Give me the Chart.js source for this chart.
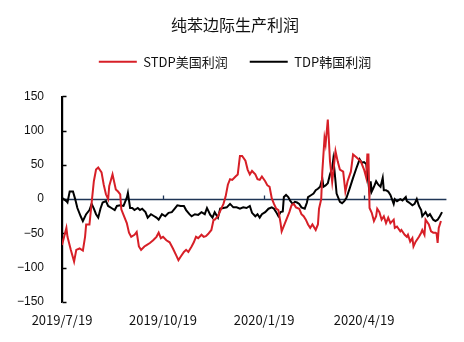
<!DOCTYPE html>
<html>
<head>
<meta charset="utf-8">
<script src="https://cdn.jsdelivr.net/npm/chart.js@4.4.0/dist/chart.umd.min.js"></script>
<style>
  html, body { margin: 0; padding: 0; background: #fff; }
  #wrap { width: 464px; height: 342px; }
</style>
</head>
<body>
<div id="wrap"><canvas id="chart"></canvas></div>
<script>
// days counted from 2019/7/19
const tickDays = [0, 92, 184, 275];
const tickLabels = ["2019/7/19", "2019/10/19", "2020/1/19", "2020/4/19"];
const yTicks = [-150, -100, -50, 0, 50, 100, 150];

// STDP美国利润
const stdpDays = [
  0, 4, 5, 8, 11, 13, 16, 19, 21, 22,
  25, 27, 29, 31, 33, 36, 38, 40, 42, 43,
  46, 49, 51, 53, 54, 56, 59, 61, 63, 66,
  68, 70, 72, 75, 77, 80, 83, 86, 88, 90,
  92, 95, 98, 101, 104, 106, 108, 111, 113, 115,
  118, 120, 122, 124, 127, 129, 131, 133, 136, 138,
  139, 142, 145, 147, 149, 151, 153, 155, 158, 160,
  162, 164, 167, 169, 171, 173, 176, 178, 180, 182,
  185, 187, 189, 191, 193, 195, 197, 199, 200, 203,
  205, 207, 209, 211, 213, 216, 218, 220, 222, 224,
  226, 228, 231, 233, 234, 236, 237, 239, 240, 242,
  244, 246, 249, 251, 253, 256, 258, 260, 263, 265,
  268, 272, 275, 277, 278, 279, 280, 282, 284, 286,
  287, 289, 291, 293, 295, 297, 299, 302, 303, 305,
  308, 309, 312, 314, 315, 317, 319, 320, 322, 325,
  327, 328, 330, 331, 334, 336, 338, 340, 341, 342,
  343, 345
];
const stdpValues = [
  -67, -42, -55, -74, -91, -74, -72, -75, -55, -37,
  -37, -5, 26, 43, 46, 39, 21, 7, 0, 19,
  36, 14, 11, 7, -15, -23, -35, -49, -55, -52,
  -48, -69, -74, -69, -67, -64, -60, -55, -49, -57,
  -55, -60, -63, -72, -82, -89, -84, -77, -74, -77,
  -69, -63, -55, -57, -52, -55, -54, -51, -45, -30,
  -30, -25, -14, -7, 4, 21, 29, 28, 33, 36,
  63, 63, 56, 43, 36, 41, 36, 29, 28, 33,
  26, 20, 18, 1, -7, -14, -16, -35, -47, -35,
  -27, -19, -9, -7, -12, -14, -22, -25, -30, -37,
  -42, -37, -45, -37, -14, 0, 40, 89, 80, 116,
  55, 25, 70, 55, 43, 40, 11, 26, 40, 65,
  61, 55, 43, 31, 65, 65, -13, -20, -32, -25,
  -14, -19, -30, -25, -35, -27, -35, -30, -42, -40,
  -47, -45, -52, -55, -52, -62, -57, -69, -62, -55,
  -49, -45, -52, -30, -37, -47, -49, -49, -50, -64,
  -42, -32
];

// TDP韩国利润
const tdpDays = [
  0, 4, 5, 7, 10, 12, 14, 17, 19, 22,
  25, 27, 29, 31, 33, 35, 37, 40, 42, 45,
  48, 50, 53, 56, 59, 60, 62, 64, 66, 69,
  71, 73, 76, 78, 81, 84, 86, 88, 91, 94,
  97, 100, 103, 105, 108, 111, 113, 116, 118, 121,
  124, 127, 130, 132, 135, 137, 139, 142, 144, 147,
  150, 153, 156, 159, 162, 165, 168, 171, 173, 176,
  178, 180, 182, 185, 188, 191, 193, 195, 197, 199,
  201, 202, 204, 206, 208, 210, 212, 214, 216, 218,
  221, 223, 224, 227, 229, 231, 233, 235, 237, 238,
  240, 242, 244, 246, 247, 248, 249, 250, 253, 255,
  257, 259, 262, 265, 268, 271, 273, 275, 277, 278,
  280, 281, 282, 284, 286, 288, 290, 292, 293, 295,
  297, 299, 302, 303, 305, 308, 310, 313, 314, 316,
  319, 321, 323, 325, 327, 328, 331, 333, 335, 338,
  340, 342, 344, 346
];
const tdpValues = [
  2, -3, -5, 11, 11, 0, -13, -25, -32, -22,
  -16, -7, -14, -22, -27, -14, -5, -3, -10, -13,
  -16, -10, -9, -10, 2, 9, -13, -13, -16, -13,
  -16, -14, -19, -27, -22, -25, -27, -30, -22, -25,
  -20, -19, -13, -9, -10, -10, -16, -22, -25, -22,
  -23, -19, -22, -13, -23, -27, -19, -27, -14, -13,
  -12, -7, -12, -12, -14, -12, -13, -10, -20, -25,
  -22, -27, -22, -19, -14, -12, -14, -19, -25, -19,
  -18, 3, 6, 3, -3, -7, -4, -5, -7, -12,
  -14, -5, 3, 6, 8, 13, 15, 18, 30, 18,
  20, 23, 36, 45, 58, 43, 26, 8, -4, -6,
  -3, 2, 16, 31, 45, 58, 53, 54, 51, 38,
  9, 26, 11, 18, 26, 21, 18, 31, 13, 13,
  11, 6, -7, 0, -3, 0, -2, 3, -3, -5,
  -9, -7, 0, -10, -16, -25, -19, -25, -22, -30,
  -32, -30, -25, -19
];

const zeroLineEnd = 350;
const RED = "#d71f27";
const NAVY = "#1f3556";

// zero line with small up ticks, y axis line with ticks pointing inward
const axisDeco = {
  id: "axisDeco",
  beforeDatasetsDraw(chart) {
    const { ctx, scales: { x, y } } = chart;
    const left = Math.round(x.getPixelForValue(0)) + 0.5;
    const y0 = Math.round(y.getPixelForValue(0)) + 0.5;
    ctx.save();
    ctx.strokeStyle = NAVY;
    ctx.lineWidth = 1.3;
    ctx.beginPath();
    ctx.moveTo(left, y0);
    ctx.lineTo(x.getPixelForValue(zeroLineEnd), y0);
    tickDays.slice(1).forEach((d) => {
      const px = Math.round(x.getPixelForValue(d)) + 0.5;
      ctx.moveTo(px, y0);
      ctx.lineTo(px, y0 - 4);
    });
    ctx.stroke();

    ctx.strokeStyle = "#000";
    ctx.lineWidth = 1.4;
    ctx.beginPath();
    ctx.moveTo(left, y.getPixelForValue(150));
    ctx.lineTo(left, y.getPixelForValue(-150));
    yTicks.forEach((v) => {
      const py = Math.round(y.getPixelForValue(v)) + 0.5;
      ctx.moveTo(left, py);
      ctx.lineTo(left + 4, py);
    });
    ctx.stroke();
    ctx.restore();
  },
};

new Chart(document.getElementById("chart"), {
  type: "line",
  data: {
    datasets: [
      {
        label: "STDP美国利润",
        data: stdpDays.map((d, i) => ({ x: d, y: stdpValues[i] })),
        borderColor: RED,
        backgroundColor: RED,
        borderWidth: 2,
        pointRadius: 0,
        tension: 0,
      },
      {
        label: "TDP韩国利润",
        data: tdpDays.map((d, i) => ({ x: d, y: tdpValues[i] })),
        borderColor: "#000",
        backgroundColor: "#000",
        borderWidth: 2,
        pointRadius: 0,
        tension: 0,
      },
    ],
  },
  options: {
    responsive: true,
    maintainAspectRatio: false,
    animation: false,
    layout: { padding: { left: 6 } },
    plugins: {
      title: {
        display: true,
        text: "纯苯边际生产利润",
        color: "#111",
        font: { family: "'Noto Sans CJK SC'", size: 16, weight: "normal" },
        padding: { top: 15, bottom: -1 },
      },
      subtitle: {
        display: true,
        text: "",
        weight: 500,
        font: { size: 10, lineHeight: 1 },
        padding: { top: 8, bottom: 0 },
      },
      legend: {
        labels: {
          color: "#111",
          font: { family: "'Noto Sans CJK SC'", size: 13 },
          boxWidth: 38,
          boxHeight: 2,
          padding: 22,
          generateLabels(chart) {
            const items = Chart.defaults.plugins.legend.labels.generateLabels(chart);
            items.forEach((it) => { it.lineWidth = 0; });
            return items;
          },
        },
      },
      tooltip: { enabled: false },
    },
    scales: {
      x: {
        type: "linear",
        min: 0,
        max: 366,
        grid: { display: false },
        border: { display: false },
        afterBuildTicks(scale) {
          scale.ticks = tickDays.map((v) => ({ value: v }));
        },
        afterFit(scale) { scale.height = 40; },
        ticks: {
          autoSkip: false,
          maxRotation: 0,
          padding: 2,
          color: "#111",
          font: { family: "'Noto Sans CJK SC'", size: 13 },
          callback: (v) => tickLabels[tickDays.indexOf(v)],
        },
      },
      y: {
        min: -150,
        max: 150,
        grid: { display: false },
        border: { display: true, color: "#000", width: 1.4 },
        afterBuildTicks(scale) {
          scale.ticks = yTicks.map((v) => ({ value: v }));
        },
        afterFit(scale) { scale.width = 56; },
        ticks: {
          padding: 10,
          color: "#111",
          font: { family: "'Liberation Sans'", size: 12 },
          callback: (v) => String(v).replace("-", "\u2212"),
        },
      },
    },
  },
  plugins: [axisDeco],
});
</script>
</body>
</html>
